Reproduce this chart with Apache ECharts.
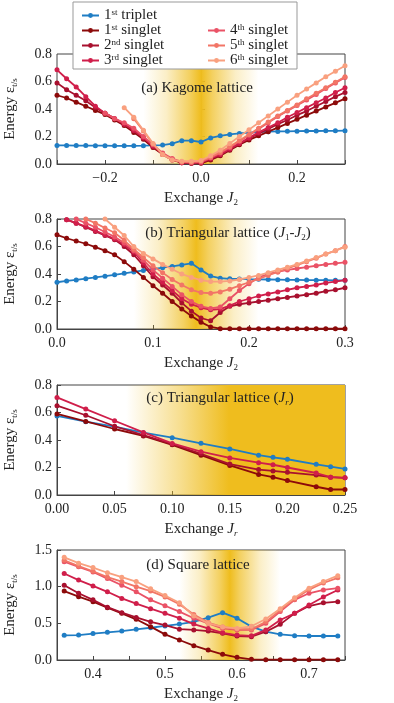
<!DOCTYPE html>
<html>
<head>
<meta charset="utf-8">
<script src="https://cdn.jsdelivr.net/npm/echarts@6/dist/echarts.min.js"></script>
<style>
  html, body { margin: 0; padding: 0; background: #fff; }
  #chart { width: 394px; height: 703px; }
</style>
</head>
<body>
<div id="chart"></div>
<script>
const FONT = '"Liberation Serif", "DejaVu Serif", serif'
const seriesNames = ['1st triplet', '1st singlet', '2nd singlet', '3rd singlet', '4th singlet', '5th singlet', '6th singlet']
const seriesColors = ['#1f7dc4', '#8c0a0a', '#a8102e', '#d01e4a', '#ea5266', '#f27566', '#f9a07f']

// (a) Kagome lattice
const kagomeJ2 = [-0.30, -0.28, -0.26, -0.24, -0.22, -0.20, -0.18, -0.16, -0.14, -0.12, -0.10, -0.08, -0.06, -0.04, -0.02, 0.00, 0.02, 0.04, 0.06, 0.08, 0.10, 0.12, 0.14, 0.16, 0.18, 0.20, 0.22, 0.24, 0.26, 0.28, 0.30]
const kagomeTriplet = [0.135, 0.135, 0.134, 0.134, 0.133, 0.133, 0.132, 0.132, 0.132, 0.133, 0.135, 0.138, 0.148, 0.170, 0.170, 0.160, 0.190, 0.205, 0.215, 0.222, 0.228, 0.232, 0.235, 0.237, 0.238, 0.239, 0.240, 0.240, 0.241, 0.241, 0.242]
const kagomeS1 = [0.50, 0.48, 0.45, 0.42, 0.39, 0.36, 0.32, 0.28, 0.23, 0.18, 0.12, 0.07, 0.03, 0.01, 0.005, 0.005, 0.03, 0.06, 0.10, 0.14, 0.175, 0.205, 0.235, 0.265, 0.295, 0.325, 0.355, 0.385, 0.415, 0.445, 0.475]
const kagomeS2 = [0.59, 0.54, 0.50, 0.46, 0.41, 0.37, 0.33, 0.29, 0.24, 0.19, 0.13, 0.075, 0.035, 0.01, 0.005, 0.01, 0.035, 0.065, 0.105, 0.145, 0.185, 0.22, 0.255, 0.29, 0.32, 0.355, 0.385, 0.42, 0.455, 0.49, 0.52]
const kagomeS3 = [0.685, 0.62, 0.56, 0.49, 0.42, 0.37, 0.33, 0.29, 0.245, 0.19, 0.13, 0.075, 0.035, 0.01, 0.01, 0.01, 0.04, 0.07, 0.11, 0.15, 0.19, 0.23, 0.265, 0.30, 0.34, 0.375, 0.41, 0.445, 0.48, 0.52, 0.555]
const kagomeS4 = [null, null, null, null, null, 0.37, 0.33, 0.30, 0.26, 0.20, 0.14, 0.08, 0.04, 0.015, 0.01, 0.015, 0.045, 0.08, 0.12, 0.165, 0.21, 0.255, 0.30, 0.345, 0.385, 0.425, 0.465, 0.505, 0.55, 0.59, 0.63]
const kagomeS5 = [null, null, null, null, null, null, null, null, 0.33, 0.24, 0.145, 0.07, 0.03, 0.015, 0.015, 0.02, 0.05, 0.085, 0.125, 0.17, 0.215, 0.26, 0.305, 0.35, 0.39, 0.43, 0.475, 0.515, 0.555, 0.595, 0.635]
const kagomeS6 = [null, null, null, null, null, null, null, 0.41, 0.34, 0.245, 0.15, 0.07, 0.03, 0.02, 0.02, 0.025, 0.06, 0.10, 0.15, 0.20, 0.25, 0.30, 0.35, 0.40, 0.45, 0.50, 0.545, 0.59, 0.635, 0.675, 0.715]

// (b) Triangular lattice J1-J2
const triJ2 = [0.00, 0.01, 0.02, 0.03, 0.04, 0.05, 0.06, 0.07, 0.08, 0.09, 0.10, 0.11, 0.12, 0.13, 0.14, 0.15, 0.16, 0.17, 0.18, 0.19, 0.20, 0.21, 0.22, 0.23, 0.24, 0.25, 0.26, 0.27, 0.28, 0.29, 0.30]
const triTriplet = [0.34, 0.35, 0.357, 0.366, 0.375, 0.384, 0.394, 0.405, 0.415, 0.426, 0.436, 0.446, 0.455, 0.466, 0.478, 0.43, 0.385, 0.37, 0.365, 0.364, 0.362, 0.361, 0.36, 0.359, 0.358, 0.357, 0.356, 0.355, 0.355, 0.354, 0.354]
const triS1 = [0.685, 0.66, 0.64, 0.62, 0.595, 0.57, 0.54, 0.49, 0.435, 0.375, 0.315, 0.26, 0.20, 0.145, 0.095, 0.05, 0.015, 0.002, 0.002, 0.002, 0.002, 0.002, 0.002, 0.002, 0.002, 0.002, 0.002, 0.002, 0.002, 0.002, 0.002]
const triS2 = [null, 0.795, 0.77, 0.74, 0.71, 0.68, 0.65, 0.60, 0.54, 0.46, 0.38, 0.32, 0.26, 0.19, 0.13, 0.08, 0.06, 0.12, 0.165, 0.18, 0.19, 0.20, 0.21, 0.22, 0.23, 0.24, 0.25, 0.26, 0.275, 0.285, 0.30]
const triS3 = [null, 0.795, 0.77, 0.745, 0.715, 0.685, 0.655, 0.615, 0.56, 0.48, 0.40, 0.34, 0.28, 0.22, 0.18, 0.155, 0.14, 0.145, 0.17, 0.20, 0.22, 0.24, 0.255, 0.27, 0.285, 0.30, 0.31, 0.32, 0.335, 0.345, 0.355]
const triS4 = [null, null, 0.80, 0.77, 0.74, 0.705, 0.67, 0.625, 0.57, 0.50, 0.43, 0.37, 0.31, 0.25, 0.20, 0.165, 0.15, 0.16, 0.22, 0.28, 0.33, 0.375, 0.40, 0.415, 0.43, 0.44, 0.45, 0.46, 0.47, 0.478, 0.485]
const triS5 = [null, null, null, 0.80, 0.77, 0.735, 0.70, 0.645, 0.58, 0.52, 0.46, 0.41, 0.36, 0.32, 0.285, 0.265, 0.26, 0.27, 0.29, 0.315, 0.34, 0.365, 0.39, 0.415, 0.44, 0.465, 0.49, 0.515, 0.545, 0.57, 0.60]
const triS6 = [null, null, null, null, null, 0.80, 0.74, 0.68, 0.60, 0.55, 0.51, 0.47, 0.435, 0.40, 0.375, 0.355, 0.345, 0.345, 0.35, 0.36, 0.375, 0.39, 0.41, 0.43, 0.45, 0.47, 0.495, 0.52, 0.545, 0.57, 0.595]

// (c) Triangular lattice Jr
const triJr = [0.00, 0.025, 0.05, 0.075, 0.10, 0.125, 0.15, 0.175, 0.1875, 0.20, 0.225, 0.2375, 0.25]
const jrTriplet = [0.575, 0.533, 0.497, 0.453, 0.417, 0.376, 0.335, 0.29, 0.274, 0.26, 0.223, 0.206, 0.19]
const jrS1 = [0.59, 0.535, 0.48, 0.43, 0.365, 0.29, 0.215, 0.15, 0.13, 0.105, 0.06, 0.04, 0.04]
const jrS2 = [0.65, 0.58, 0.50, 0.435, 0.37, 0.30, 0.225, 0.185, 0.175, 0.165, 0.145, 0.13, 0.125]
const jrS3 = [0.71, 0.625, 0.54, 0.455, 0.375, 0.315, 0.27, 0.235, 0.22, 0.20, 0.16, 0.13, 0.125]

// (d) Square lattice
const sqJ2 = [0.36, 0.38, 0.40, 0.42, 0.44, 0.46, 0.48, 0.50, 0.52, 0.54, 0.56, 0.58, 0.60, 0.62, 0.64, 0.66, 0.68, 0.70, 0.72, 0.74]
const sqTriplet = [0.336, 0.34, 0.36, 0.377, 0.395, 0.418, 0.44, 0.464, 0.49, 0.52, 0.577, 0.645, 0.57, 0.455, 0.386, 0.35, 0.332, 0.327, 0.327, 0.327]
const sqS1 = [0.94, 0.864, 0.795, 0.714, 0.636, 0.555, 0.455, 0.35, 0.273, 0.195, 0.136, 0.077, 0.036, 0.009, 0.005, 0.005, 0.005, 0.005, 0.005, 0.005]
const sqS2 = [1.02, 0.91, 0.82, 0.72, 0.645, 0.58, 0.52, 0.477, 0.42, 0.41, 0.395, 0.364, 0.327, 0.318, 0.386, 0.486, 0.636, 0.736, 0.78, 0.795]
const sqS3 = [1.18, 1.09, 1.01, 0.93, 0.84, 0.77, 0.70, 0.636, 0.57, 0.49, 0.43, 0.37, 0.34, 0.33, 0.41, 0.545, 0.636, 0.75, 0.86, 0.955]
const sqS4 = [1.34, 1.27, 1.20, 1.11, 1.02, 0.93, 0.82, 0.74, 0.66, 0.57, 0.50, 0.43, 0.41, 0.41, 0.50, 0.66, 0.82, 0.91, 0.955, 0.98]
const sqS5 = [1.36, 1.28, 1.21, 1.13, 1.07, 1.00, 0.94, 0.86, 0.76, 0.62, 0.51, 0.45, 0.42, 0.42, 0.52, 0.68, 0.83, 0.96, 1.05, 1.12]
const sqS6 = [1.40, 1.32, 1.26, 1.19, 1.13, 1.07, 0.97, 0.88, 0.78, 0.60, 0.50, 0.45, 0.43, 0.46, 0.56, 0.70, 0.85, 0.98, 1.07, 1.15]

const GOLD = '239,189,30'
const gold = (a) => 'rgba(' + GOLD + ',' + a + ')'
const peakBand = () => new echarts.graphic.LinearGradient(0, 0, 1, 0, [
  { offset: 0, color: gold(0) }, { offset: 0.2, color: gold(0.25) }, { offset: 0.4, color: gold(0.7) },
  { offset: 0.5, color: gold(1) }, { offset: 0.6, color: gold(0.7) }, { offset: 0.8, color: gold(0.25) },
  { offset: 1, color: gold(0) }
])
const rampBand = () => new echarts.graphic.LinearGradient(0, 0, 1, 0, [
  { offset: 0, color: gold(0) }, { offset: 0.25, color: gold(0.5) }, { offset: 0.47, color: gold(1) }, { offset: 1, color: gold(1) }
])

const rich = {
  i: { fontFamily: FONT, fontSize: 15, fontStyle: 'italic', color: '#222', lineHeight: 18 },
  s: { fontFamily: FONT, fontSize: 9, color: '#222', verticalAlign: 'bottom', lineHeight: 18 },
  si: { fontFamily: FONT, fontSize: 9, fontStyle: 'italic', color: '#222', verticalAlign: 'bottom', lineHeight: 18 },
  sup: { fontFamily: FONT, fontSize: 9, color: '#222', verticalAlign: 'top', lineHeight: 15 }
}

const panels = [
  { top: 54, xs: kagomeJ2, ys: [kagomeTriplet, kagomeS1, kagomeS2, kagomeS3, kagomeS4, kagomeS5, kagomeS6],
    xMin: -0.3, xMax: 0.3, xInt: 0.1, yMax: 0.8, yInt: 0.2, xName: 'Exchange {i|J}{s|2}',
    xLabel: v => (Math.round(v * 10) % 2 === 0 ? (v < -1e-9 ? '\u2212' : '') + Math.abs(v).toFixed(1) : ''),
    band: [-0.12, 0.12], bandColor: peakBand() },
  { top: 219, xs: triJ2, ys: [triTriplet, triS1, triS2, triS3, triS4, triS5, triS6],
    xMin: 0, xMax: 0.3, xInt: 0.1, yMax: 0.8, yInt: 0.2, xName: 'Exchange {i|J}{s|2}',
    xLabel: v => v.toFixed(1), band: [0.08, 0.21], bandColor: peakBand() },
  { top: 385, xs: triJr, ys: [jrTriplet, jrS1, jrS2, jrS3],
    xMin: 0, xMax: 0.25, xInt: 0.05, yMax: 0.8, yInt: 0.2, xName: 'Exchange {i|J}{si|r}',
    xLabel: v => v.toFixed(2), band: [0.06, 0.25], bandColor: rampBand() },
  { top: 550, xs: sqJ2, ys: [sqTriplet, sqS1, sqS2, sqS3, sqS4, sqS5, sqS6],
    xMin: 0.35, xMax: 0.75, xInt: 0.05, yMax: 1.5, yInt: 0.5, xName: 'Exchange {i|J}{s|2}',
    xLabel: v => (Math.round(v * 100) % 10 === 0 ? v.toFixed(1) : ''), band: [0.52, 0.66], bandColor: peakBand() }
]

const labelStyle = { fontFamily: FONT, fontSize: 14, color: '#222' }
const grids = [], xAxes = [], yAxes = [], series = []

panels.forEach((p, k) => {
  grids.push({
    left: 57, right: 49, top: p.top, height: 110, containLabel: false, outerBoundsMode: 'none',
    show: true, borderColor: '#444', borderWidth: 1, backgroundColor: 'transparent'
  })
  xAxes.push({
    type: 'value', gridIndex: k, min: p.xMin, max: p.xMax, interval: p.xInt,
    name: p.xName, nameLocation: 'middle', nameGap: 25,
    nameTextStyle: { fontFamily: FONT, fontSize: 15, color: '#222', lineHeight: 18, rich: rich },
    axisLine: { lineStyle: { color: '#444' } },
    axisTick: { inside: true, length: 4, lineStyle: { color: '#444' } },
    axisLabel: Object.assign({ margin: 7, formatter: p.xLabel, showMinLabel: true, showMaxLabel: true }, labelStyle),
    splitLine: { show: false }
  })
  yAxes.push({
    type: 'value', gridIndex: k, min: 0, max: p.yMax, interval: p.yInt,
    name: 'Energy \u03b5{s|t/s}', nameLocation: 'middle', nameGap: 38, nameRotate: 90,
    nameTextStyle: { fontFamily: FONT, fontSize: 15, color: '#222', lineHeight: 18, rich: rich },
    axisLine: { lineStyle: { color: '#444' } },
    axisTick: { inside: true, length: 4, lineStyle: { color: '#444' } },
    axisLabel: Object.assign({ margin: 5, formatter: v => v.toFixed(1) }, labelStyle),
    splitLine: { show: false }
  })
  series.push({
    name: 'band', type: 'line', xAxisIndex: k, yAxisIndex: k, data: [], silent: true, z: 1,
    markArea: { silent: true, itemStyle: { color: p.bandColor }, data: [[{ xAxis: p.band[0] }, { xAxis: p.band[1] }]] }
  })
  p.ys.forEach((ys, i) => {
    series.push({
      name: seriesNames[i], type: 'line', xAxisIndex: k, yAxisIndex: k, z: 2 + i,
      data: p.xs.map((x, j) => [x, ys[j]]).filter(d => d[1] != null),
      symbol: 'circle', symbolSize: 5, clip: true,
      lineStyle: { width: 1.8, color: seriesColors[i] },
      itemStyle: { color: seriesColors[i] }
    })
  })
})

const legendText = name => name.replace(/^(\d)(st|nd|rd|th)/, '$1{sup|$2}')
const legendBase = {
  orient: 'vertical', itemWidth: 17, itemHeight: 6, itemGap: 0, z: 30, padding: 0,
  formatter: legendText,
  textStyle: { fontFamily: FONT, fontSize: 15, color: '#222', lineHeight: 15, rich: rich }
}

const panelTitle = (x, y, text) => ({
  type: 'text', x: x, y: y, z: 5, silent: true,
  style: { text: text, align: 'center', verticalAlign: 'middle', fontFamily: FONT, fontSize: 15, fill: '#222', rich: rich }
})

const option = {
  animation: false,
  backgroundColor: '#fff',
  grid: grids,
  xAxis: xAxes,
  yAxis: yAxes,
  series: series,
  legend: [
    Object.assign({ left: 81, top: 8, data: seriesNames.slice(0, 4) }, legendBase),
    Object.assign({ left: 207, top: 23, data: seriesNames.slice(4) }, legendBase)
  ],
  graphic: [
    { type: 'rect', z: 20, silent: true, shape: { x: 73, y: 2, width: 224, height: 67 }, style: { fill: '#fff', stroke: '#999', lineWidth: 1 } },
    panelTitle(197, 88, '(a) Kagome lattice'),
    panelTitle(228, 233, '(b) Triangular lattice ({i|J}{s|1}-{i|J}{s|2})'),
    panelTitle(220, 398, '(c) Triangular lattice ({i|J}{si|r})'),
    panelTitle(198, 565, '(d) Square lattice')
  ]
}

const chart = echarts.init(document.getElementById('chart'))
chart.setOption(option)
</script>
</body>
</html>
